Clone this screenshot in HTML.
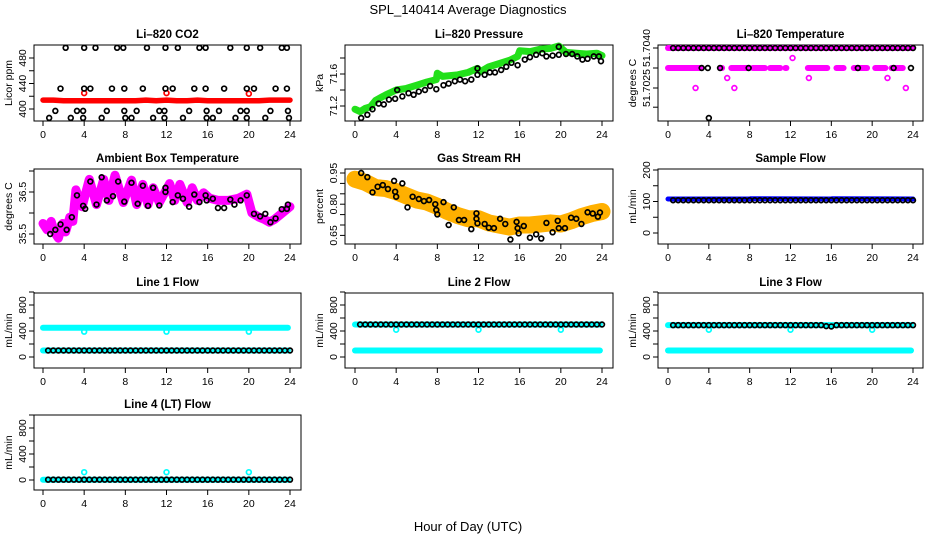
<!DOCTYPE html>
<html><head><meta charset="utf-8"><style>
html,body{margin:0;padding:0;background:#fff;}
svg{display:block;font-family:"Liberation Sans",Arial,sans-serif;}
</style></head><body>
<svg id="chart" width="936" height="540" viewBox="0 0 936 540" xmlns="http://www.w3.org/2000/svg">
<text x="468" y="14" text-anchor="middle" font-size="13">SPL_140414  Average Diagnostics</text>
<text x="468" y="531" text-anchor="middle" font-size="13">Hour of Day (UTC)</text>
</svg>
<script>
const xTicks = [0,4,8,12,16,20,24];
const hourTimes = [0.5,1,1.5,2,2.5,3,3.5,4,4.5,5,5.5,6,6.5,7,7.5,8,8.5,9,9.5,10,10.5,11,11.5,12,12.5,13,13.5,14,14.5,15,15.5,16,16.5,17,17.5,18,18.5,19,19.5,20,20.5,21,21.5,22,22.5,23,23.5,24];

// CO2
const co2RedT = [0,1,2,3,4,5,6,7,8,9,10,11,12,13,14,15,16,17,18,19,20,21,22,23,24];
const co2RedV = [414,414,413,413,413,413,413,413,413,413,414,413,414,413,413,414,413,413,413,413,413,413,414,414,414];
const co2RedOutT = [4,12,20];
const co2RedOutV = [425,425,424];
const co2BlackT = [2.2,4.0,5.1,7.2,7.8,10.1,11.9,13.1,15.2,15.8,18.2,19.8,21.1,23.2,23.7,
 1.7,4.0,4.6,6.7,7.9,9.7,11.9,12.6,14.7,15.8,17.6,19.8,20.5,22.6,23.7,
 1.2,3.3,3.9,6.2,7.9,9.1,11.3,11.8,14.2,15.9,17.1,19.2,19.8,22.1,23.8,
 0.6,2.7,3.9,5.7,8.0,8.6,10.7,11.8,13.6,15.9,16.5,18.7,19.8,21.6,23.9];
const co2BlackV = [496,496,496,496,496,496,496,496,496,496,496,496,496,496,496,
 432,432,432,432,432,432,432,432,432,432,432,432,432,432,432,
 397,397,397,397,397,397,397,397,397,397,397,397,397,397,397,
 386,386,386,386,386,386,386,386,386,386,386,386,386,386,386];

// Pressure
const presGreenT = [0,0.5,1,1.5,2,3,4,5,6,7,7.9,8.0,8.5,10,11,11.9,12.2,13,14,15,15.8,16,17,18,19,19.8,20.5,21.5,22.5,23.5,24];
const presGreenV = [71.16,71.13,71.17,71.19,71.27,71.34,71.40,71.42,71.46,71.50,71.53,71.61,71.57,71.59,71.62,71.67,71.63,71.69,71.73,71.77,71.82,71.89,71.88,71.91,71.92,71.95,71.87,71.86,71.85,71.86,71.83];
const presBlackT = [0.6,1.2,1.7,2.3,2.8,3.3,3.9,4.1,4.6,5.2,5.7,6.2,6.8,7.3,7.9,8.6,9.1,9.7,10.2,10.7,11.3,11.9,11.9,12.6,13.1,13.6,14.2,14.7,15.2,15.8,16.5,17,17.6,18.2,18.6,19.2,19.8,19.8,20.5,21.1,21.6,22.1,22.6,23.2,23.7,23.9];
const presBlackV = [71.05,71.09,71.16,71.23,71.22,71.28,71.29,71.40,71.32,71.36,71.34,71.38,71.40,71.45,71.41,71.46,71.48,71.51,71.53,71.51,71.53,71.59,71.67,71.59,71.62,71.62,71.65,71.69,71.74,71.71,71.78,71.81,71.84,71.86,71.82,71.83,71.84,71.94,71.85,71.85,71.82,71.78,71.79,71.82,71.82,71.76];

// Li-820 temperature
const tempPinkSegStart = [0,0,5.1,6.2,8.3,10.0,11.5,13.7,16.5,18.2,20.3,21.9];
const tempPinkSegEnd = [24,3.2,5.3,7.8,9.5,11.0,11.6,15.6,17.2,19.5,21.3,23.0];
const tempPinkSegV = [51.7040,51.7035,51.7035,51.7035,51.7035,51.7035,51.7035,51.7035,51.7035,51.7035,51.7035,51.7035];
const tempPinkPtT = [2.7,6.5,23.3,5.8,13.8,21.5,12.2];
const tempPinkPtV = [51.7030,51.7030,51.7030,51.70325,51.70325,51.70325,51.70375];
const tempBlackTopV = [51.7040,51.7040,51.7040,51.7040,51.7040,51.7040,51.7040,51.7040,51.7040,51.7040,51.7040,51.7040,
 51.7040,51.7040,51.7040,51.7040,51.7040,51.7040,51.7040,51.7040,51.7040,51.7040,51.7040,51.7040,
 51.7040,51.7040,51.7040,51.7040,51.7040,51.7040,51.7040,51.7040,51.7040,51.7040,51.7040,51.7040,
 51.7040,51.7040,51.7040,51.7040,51.7040,51.7040,51.7040,51.7040,51.7040,51.7040,51.7040,51.7040];
const tempBlackExtraT = [3.3,3.9,5.1,7.9,18.6,22.1,23.8,4.0];
const tempBlackExtraV = [51.7035,51.7035,51.7035,51.7035,51.7035,51.7035,51.7035,51.70225];

// Ambient box temperature
const ambPinkT = [0,0.4,0.8,1.1,1.5,1.9,2.2,2.6,2.9,3.2,3.8,4.5,5.2,5.9,6.4,7.0,7.8,8.6,9.1,9.7,10.2,10.7,11.3,12.3,12.8,13.3,14.0,14.5,15.0,15.6,16.2,17,18,19,19.8,20.3,21,21.5,22,22.5,23,23.5,24];
const ambPinkV = [35.75,35.6,35.8,35.55,35.4,35.75,35.55,35.9,35.8,36.55,36.15,36.8,36.2,36.8,36.3,36.9,36.25,36.78,36.2,36.68,36.2,36.6,36.25,36.7,36.3,36.68,36.25,36.6,36.3,36.48,36.35,36.3,36.3,36.35,36.45,36.0,35.9,35.85,35.78,35.85,35.95,36.05,36.15];
const ambBlackT = [0.7,1.2,1.7,2.3,2.8,3.3,3.9,4.1,4.6,5.2,5.7,6.2,6.8,7.3,7.9,8.6,9.2,9.7,10.2,10.7,11.3,11.9,11.9,12.6,13.1,13.6,14.2,14.7,15.2,15.8,15.9,16.5,17.0,17.6,18.2,18.6,19.2,19.8,20.5,21.1,21.6,22.1,22.6,23.2,23.7,23.8];
const ambBlackV = [35.5,35.6,35.73,35.6,35.9,36.42,36.17,36.1,36.75,36.2,36.85,36.3,36.4,36.75,36.27,36.72,36.22,36.65,36.17,36.6,36.18,36.5,36.6,36.26,36.42,36.34,36.15,36.44,36.26,36.42,36.3,36.34,36.12,36.12,36.32,36.2,36.3,36.42,35.98,35.92,35.98,35.78,35.87,36.09,36.1,36.2];

// Gas stream RH
const rhBandT = [0,1,2,3,4,5,6,7,8,9,10,11,12,13,14,15,16,17,18,19,20,21,22,23,24];
const rhBandV = [0.92,0.905,0.88,0.875,0.86,0.84,0.82,0.81,0.79,0.765,0.745,0.73,0.73,0.71,0.70,0.69,0.70,0.70,0.705,0.71,0.705,0.72,0.74,0.755,0.765];
const rhBlackT = [0.6,1.2,1.7,2.2,2.7,3.2,3.8,3.9,4.0,4.6,5.1,5.6,6.2,6.7,7.2,7.8,7.9,8.0,8.6,9.1,9.6,10.1,10.6,11.3,11.8,11.8,11.9,12.6,13.0,13.5,14.1,14.6,15.1,15.7,15.8,15.9,16.4,17.0,17.6,18.1,18.6,19.2,19.7,19.8,20.4,21.0,21.5,22.0,22.6,23.1,23.6,23.8];
const rhBlackV = [0.95,0.93,0.857,0.884,0.892,0.873,0.912,0.86,0.836,0.9,0.785,0.836,0.825,0.815,0.82,0.8,0.772,0.751,0.81,0.70,0.785,0.724,0.724,0.68,0.756,0.73,0.708,0.705,0.687,0.685,0.73,0.705,0.63,0.715,0.685,0.66,0.695,0.639,0.655,0.635,0.71,0.665,0.72,0.685,0.685,0.735,0.73,0.705,0.761,0.755,0.74,0.76];

// Sample flow
const sampleBlueT = [0,8,8.1,16,16.1,24];
const sampleBlueV = [108,108,109,108,109,108];
const sampleBlackV = [104,104,104,104,104,104,104,104,104,104,104,104,104,104,104,104,104,104,104,104,104,104,104,104,
 104,104,104,104,104,104,104,104,104,104,104,104,104,104,104,104,104,104,104,104,104,104,104,104];

// Line flows
const cyanBandT = [0,23.8];
const dipT = [4,12,20];
const line1CyanHi = [450,450];
const line1CyanLo = [100,100];
const line1DipV = [390,390,390];
const line1BlackV = [100,100,100,100,100,100,100,100,100,100,100,100,100,100,100,100,100,100,100,100,100,100,100,100,
 100,100,100,100,100,100,100,100,100,100,100,100,100,100,100,100,100,100,100,100,100,100,100,100];
const line2CyanHi = [500,500];
const line2CyanLo = [100,100];
const line2DipV = [420,420,420];
const line2BlackV = [500,500,500,500,500,500,500,500,500,500,500,500,500,500,500,500,500,500,500,500,500,500,500,500,
 500,500,500,500,500,500,500,500,500,500,500,500,500,500,500,500,500,500,500,500,500,500,500,500];
const line3CyanHi = [490,490];
const line3CyanLo = [100,100];
const line3DipV = [420,420,420];
const line3BlackV = [490,490,490,490,490,490,490,490,490,490,490,490,490,490,490,490,490,490,490,490,490,490,490,490,
 490,490,490,490,490,490,475,470,490,490,490,490,490,490,490,490,490,490,490,490,490,490,490,490];
const line4CyanLo = [5,5];
const line4DipV = [120,120,120];
const line4BlackV = [5,5,5,5,5,5,5,5,5,5,5,5,5,5,5,5,5,5,5,5,5,5,5,5,
 5,5,5,5,5,5,5,5,5,5,5,5,5,5,5,5,5,5,5,5,5,5,5,5];

// y ticks
const co2YTicks = [400,420,440,460,480];
const co2YLabels = ["400","","440","","480"];
const presYTicks = [71.2,71.4,71.6,71.8];
const presYLabels = ["71.2","","71.6",""];
const tempYTicks = [51.7040,51.7035,51.7030,51.70252];
const tempYLabels = ["51.7040","","51.7025",""];
const ambYTicks = [35.5,36.0,36.5,37.0];
const ambYLabels = ["35.5","","36.5",""];
const rhYTicks = [0.65,0.70,0.75,0.80,0.85,0.90,0.95];
const rhYLabels = ["0.65","","","0.80","","","0.95"];
const sampleYTicks = [0,50,100,150,200];
const sampleYLabels = ["0","","100","","200"];
const flowYTicks = [0,200,400,600,800,1000];
const flowYLabels = ["0","","400","","800",""];

const svg = document.getElementById('chart');
const NS = 'http://www.w3.org/2000/svg';
function mk(tag, attrs, parent){
  const e = document.createElementNS(NS, tag);
  for (const k in attrs) e.setAttribute(k, attrs[k]);
  (parent||svg).appendChild(e);
  return e;
}
const cols = [
  {bl:34, br:301, x0:43, x24:290},
  {bl:345, br:613, x0:355, x24:602},
  {bl:658, br:923, x0:668, x24:913}
];
const rows = [{bt:45,bb:121},{bt:169,bb:244},{bt:293,bb:368},{bt:415,bb:490}];

function makePanel(name, title, ylab, c, r, v1, y1, v2, y2, ticks, labels){
  const p = Object.assign({}, cols[c], rows[r], {v1:v1,y1:y1,v2:v2,y2:y2});
  const g = mk('g', {});
  
  
  p.g = g;
  p.xs = t => p.x0 + (p.x24 - p.x0) * t / 24;
  p.ys = v => p.y1 + (v - p.v1) * (p.y2 - p.y1) / (p.v2 - p.v1);
  const t = mk('text', {x:(p.bl+p.br)/2, y:p.bt-7, 'text-anchor':'middle', 'font-size':'11.5', 'font-weight':'bold'}, g);
  t.textContent = title;
  
  
  const yl = mk('text', {transform:`translate(${p.bl-22},${(p.bt+p.bb)/2}) rotate(-90)`, 'text-anchor':'middle', 'font-size':'10.5'}, g);
  yl.textContent = ylab;
  
  
  const box = mk('rect', {x:p.bl, y:p.bt, width:p.br-p.bl, height:p.bb-p.bt, fill:'none', stroke:'#000', 'stroke-width':'1'}, g);
  
  
  const xa = mk('g', {}, g);
  
  
  mk('line', {x1:p.xs(xTicks[0]), x2:p.xs(xTicks[xTicks.length-1]), y1:p.bb, y2:p.bb, stroke:'#000'}, xa);
  xTicks.forEach(v => {
    const x = p.xs(v);
    mk('line', {x1:x, x2:x, y1:p.bb, y2:p.bb+5, stroke:'#000'}, xa);
    const tx = mk('text', {x:x, y:p.bb+17, 'text-anchor':'middle', 'font-size':'10.5'}, xa);
    tx.textContent = String(v);
    
    
  });
  const ya = mk('g', {}, g);
  
  
  mk('line', {x1:p.bl, x2:p.bl, y1:p.ys(ticks[0]), y2:p.ys(ticks[ticks.length-1]), stroke:'#000'}, ya);
  ticks.forEach((v,i) => {
    const y = p.ys(v);
    mk('line', {x1:p.bl-5, x2:p.bl, y1:y, y2:y, stroke:'#000'}, ya);
    if (labels[i]) {
      const ty = mk('text', {transform:`translate(${p.bl-8},${y}) rotate(-90)`, 'text-anchor':'middle', 'font-size':'10.5'}, ya);
      ty.textContent = labels[i];
      
      
    }
  });
  return p;
}
function band(p, T, V, color, w, name){
  const pts = T.map((t,i) => p.xs(t).toFixed(1) + ',' + p.ys(V[i]).toFixed(1)).join(' ');
  const e = mk('polyline', {points:pts, fill:'none', stroke:color, 'stroke-width':w, 'stroke-linejoin':'round', 'stroke-linecap':'round'}, p.g);
  
  
}
function points(p, T, V, color, name, r){
  const g = mk('g', {}, p.g);
  
  
  T.forEach((t,i) => {
    const c = mk('circle', {cx:p.xs(t), cy:p.ys(V[i]), r:r||2.4, fill:'none', stroke:color, 'stroke-width':'1.7'}, g);
    
    
  });
}
function segs(p, S, E, V, color, w, name){
  const g = mk('g', {}, p.g);
  
  
  S.forEach((s,i) => {
    const l = mk('line', {x1:p.xs(s), x2:p.xs(E[i]), y1:p.ys(V[i]), y2:p.ys(V[i]), stroke:color, 'stroke-width':w, 'stroke-linecap':'round'}, g);
    
    
  });
}

// CO2
let p = makePanel('co2', 'Li\u2013820 CO2', 'Licor ppm', 0, 0, 400, 109, 480, 58, co2YTicks, co2YLabels);
band(p, co2RedT, co2RedV, '#ff0000', 5.5, 'co2-red-series');
points(p, co2RedOutT, co2RedOutV, '#ff0000', 'co2-red-outliers');
points(p, co2BlackT, co2BlackV, '#000', 'co2-black-series');

// Pressure
p = makePanel('pressure', 'Li\u2013820 Pressure', 'kPa', 1, 0, 71.2, 106, 71.6, 74, presYTicks, presYLabels);
band(p, presGreenT, presGreenV, '#22e01a', 7, 'pressure-green-series');
points(p, presBlackT, presBlackV, '#000', 'pressure-black-series');

// Temperature
p = makePanel('li820-temp', 'Li\u2013820 Temperature', 'degrees C', 2, 0, 51.7040, 48, 51.7030, 88, tempYTicks, tempYLabels);
segs(p, tempPinkSegStart, tempPinkSegEnd, tempPinkSegV, '#ff00ff', 6, 'temp-pink-series');
points(p, tempPinkPtT, tempPinkPtV, '#ff00ff', 'temp-pink-points');
points(p, hourTimes, tempBlackTopV, '#000', 'temp-black-series');
points(p, tempBlackExtraT, tempBlackExtraV, '#000', 'temp-black-extra');

// Ambient
p = makePanel('ambient', 'Ambient Box Temperature', 'degrees C', 0, 1, 35.5, 234, 36.5, 192, ambYTicks, ambYLabels);
band(p, ambPinkT, ambPinkV, '#ff00ff', 9, 'ambient-pink-series');
points(p, ambBlackT, ambBlackV, '#000', 'ambient-black-series');

// RH
p = makePanel('rh', 'Gas Stream RH', 'percent', 1, 1, 0.95, 173, 0.65, 235.4, rhYTicks, rhYLabels);
band(p, rhBandT, rhBandV, '#ffb000', 17, 'rh-orange-series');
points(p, rhBlackT, rhBlackV, '#000', 'rh-black-series');

// Sample flow
p = makePanel('sample-flow', 'Sample Flow', 'mL/min', 2, 1, 0, 233, 200, 170, sampleYTicks, sampleYLabels);
band(p, sampleBlueT, sampleBlueV, '#0000ff', 5, 'sample-blue-series');
points(p, hourTimes, sampleBlackV, '#000', 'sample-black-series');

// Line 1
p = makePanel('line1', 'Line 1 Flow', 'mL/min', 0, 2, 0, 357, 800, 305, flowYTicks, flowYLabels);
band(p, cyanBandT, line1CyanHi, '#00ffff', 6, 'line1-cyan-high');
band(p, cyanBandT, line1CyanLo, '#00ffff', 6, 'line1-cyan-low');
points(p, dipT, line1DipV, '#00ffff', 'line1-cyan-dips');
points(p, hourTimes, line1BlackV, '#000', 'line1-black-series');

// Line 2
p = makePanel('line2', 'Line 2 Flow', 'mL/min', 1, 2, 0, 357, 800, 305, flowYTicks, flowYLabels);
band(p, cyanBandT, line2CyanHi, '#00ffff', 6, 'line2-cyan-high');
band(p, cyanBandT, line2CyanLo, '#00ffff', 6, 'line2-cyan-low');
points(p, dipT, line2DipV, '#00ffff', 'line2-cyan-dips');
points(p, hourTimes, line2BlackV, '#000', 'line2-black-series');

// Line 3
p = makePanel('line3', 'Line 3 Flow', 'mL/min', 2, 2, 0, 357, 800, 305, flowYTicks, flowYLabels);
band(p, cyanBandT, line3CyanHi, '#00ffff', 6, 'line3-cyan-high');
band(p, cyanBandT, line3CyanLo, '#00ffff', 6, 'line3-cyan-low');
points(p, dipT, line3DipV, '#00ffff', 'line3-cyan-dips');
points(p, hourTimes, line3BlackV, '#000', 'line3-black-series');

// Line 4
p = makePanel('line4', 'Line 4 (LT) Flow', 'mL/min', 0, 3, 0, 480, 800, 428, flowYTicks, flowYLabels);
band(p, cyanBandT, line4CyanLo, '#00ffff', 6, 'line4-cyan-series');
points(p, dipT, line4DipV, '#00ffff', 'line4-cyan-dips');
points(p, hourTimes, line4BlackV, '#000', 'line4-black-series');
</script>
</body></html>
